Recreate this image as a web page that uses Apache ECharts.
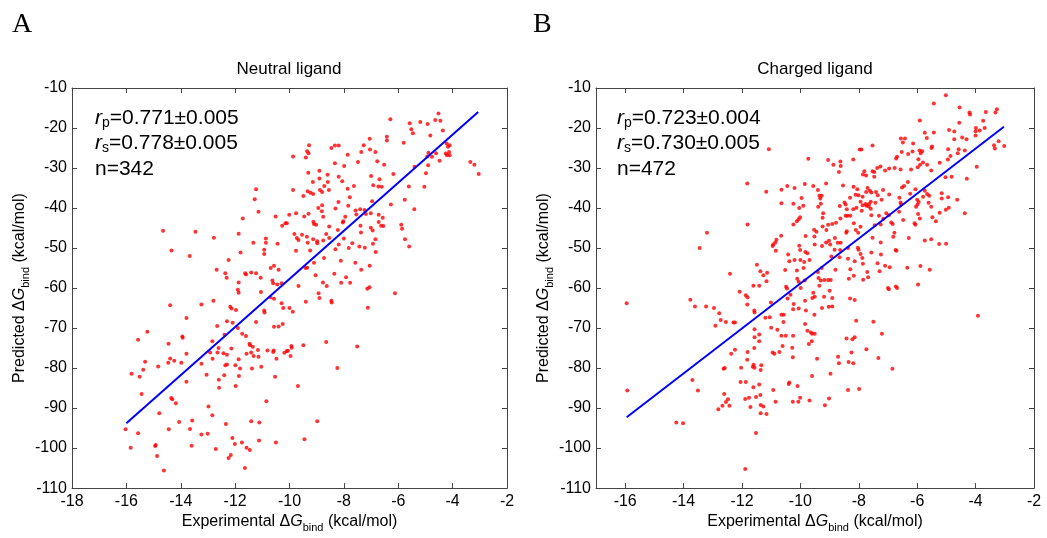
<!DOCTYPE html>
<html>
<head>
<meta charset="utf-8">
<script src="https://cdn.jsdelivr.net/npm/echarts@6/dist/echarts.min.js"></script>
<style>
html,body{margin:0;padding:0;background:#fff;}
#chart{width:1047px;height:538px;}
</style>
</head>
<body>
<div id="chart"></div>
<script>
// ---------------- DATA ----------------
const panelLetters = ['A', 'B'];
const panelTitles = ['Neutral ligand', 'Charged ligand'];
const statsNeutral = ['0.771±0.005', '0.778±0.005', '342'];
const statsCharged = ['0.723±0.004', '0.730±0.005', '472'];
const yTickMin = -110, yTickMax = -10, yTickStep = 10;
const xRangeNeutral = [-18, -2];
const xRangeCharged = [-17, -2];

// regression lines [x, y]
const fitNeutral = [[-16, -93.8], [-3.06, -16.0]];
const fitCharged = [[-15.95, -92.3], [-3.03, -19.7]];

// Neutral ligand: [experimental dG, predicted dG]
const neutralPoints = [
[-11.23,-35.3],[-11.28,-37.8],[-11.14,-40.9],[-11.72,-42.6],[-10.51,-42.1],[-10.27,-44.4],[-10.15,-43.8],[-14.65,-45.7],[-13.46,-45.9],[-12.78,-47.4],[-11.87,-46.4],[-10.87,-47.6],[-11.33,-48.7],[-10.87,-48.7],[-10.44,-48.9],[-10.93,-50.4],[-14.34,-50.6],[-11.80,-51.1],[-10.93,-51.5],[-13.67,-52.0],[-12.24,-53.0],[-10.57,-54.4],[-10.69,-55.0],[-10.40,-55.4],[-12.68,-55.4],[-12.36,-56.3],[-11.63,-56.3],[-11.41,-56.1],[-11.23,-56.3],[-11.60,-56.6],[-12.31,-57.4],[-11.06,-57.4],[-11.87,-58.6],[-10.63,-58.1],[-10.60,-58.8],[-10.45,-59.1],[-10.29,-58.8],
[-6.29,-17.8],[-5.58,-18.8],[-5.19,-18.5],[-4.92,-19.0],[-4.64,-18.0],[-4.52,-16.4],[-4.45,-18.2],[-5.52,-20.3],[-5.46,-21.3],[-4.36,-20.6],[-4.82,-21.9],[-6.42,-22.2],[-6.42,-23.1],[-5.80,-23.7],[-7.05,-22.7],[-7.04,-25.4],[-7.27,-24.3],[-9.28,-24.3],[-9.35,-25.8],[-9.30,-26.3],[-9.40,-27.4],[-9.87,-27.1],[-8.46,-25.0],[-8.33,-24.4],[-8.19,-24.4],[-7.86,-26.7],[-7.36,-26.0],[-6.84,-26.0],[-7.48,-28.5],[-8.33,-28.8],[-7.99,-29.5],[-6.77,-28.3],[-6.52,-29.2],[-6.18,-31.5],[-4.22,-23.9],[-4.11,-24.3],[-4.17,-24.7],[-4.13,-26.0],[-4.25,-26.4],[-4.11,-26.8],[-4.21,-26.8],[-4.89,-26.2],[-4.76,-27.2],[-4.61,-26.3],[-4.93,-27.1],[-4.48,-28.2],[-4.90,-29.3],[-5.40,-29.7],[-4.98,-31.3],[-5.04,-34.7],[-5.61,-34.6],[-5.76,-37.9],[-5.41,-40.3],[-6.27,-39.1],[-3.35,-28.5],[-3.20,-29.2],[-3.04,-31.5],[-9.31,-31.2],[-8.90,-30.7],[-8.60,-31.7],[-8.90,-32.6],[-8.59,-33.5],[-9.14,-33.5],[-8.72,-34.5],[-9.87,-35.5],[-9.33,-35.8],[-9.23,-36.2],[-9.13,-36.5],[-9.49,-37.0],[-8.88,-35.5],[-8.80,-36.0],[-8.55,-35.5],[-8.19,-32.2],[-8.06,-33.3],[-7.86,-35.2],[-7.63,-34.5],[-7.78,-37.3],[-7.00,-32.0],[-6.92,-34.3],[-6.69,-32.8],[-6.73,-34.6],[-6.61,-34.7],[-8.20,-38.5],[-7.84,-39.4],[-6.96,-38.3],[-8.94,-40.0],[-8.80,-39.3],[-8.81,-40.8],[-8.76,-42.2],[-8.31,-40.1],[-9.76,-41.3],[-10.01,-41.7],[-9.30,-41.4],[-9.46,-42.1],[-10.10,-43.8],[-9.12,-43.4],[-9.02,-44.2],[-9.10,-44.0],[-8.54,-44.6],[-8.04,-43.6],[-8.02,-43.3],[-7.95,-42.2],[-7.57,-40.6],[-7.54,-41.6],[-7.40,-40.3],[-7.24,-40.5],[-7.19,-41.5],[-7.01,-41.3],[-6.72,-41.7],[-6.57,-42.4],[-6.72,-43.5],[-6.63,-44.4],[-6.55,-44.5],[-7.39,-44.4],[-7.01,-44.9],[-6.94,-45.6],[-7.37,-46.1],[-5.89,-44.2],[-5.86,-45.2],[-5.75,-47.8],[-5.60,-49.6],[-9.82,-46.5],[-9.73,-47.5],[-9.67,-48.0],[-9.54,-46.7],[-9.36,-47.2],[-9.33,-48.7],[-9.13,-47.8],[-8.98,-48.3],[-8.98,-48.8],[-8.76,-48.1],[-8.65,-46.5],[-8.54,-47.5],[-8.22,-45.5],[-8.19,-49.1],[-8.00,-47.6],[-8.31,-50.3],[-7.82,-50.0],[-7.69,-48.8],[-7.43,-49.6],[-7.23,-49.9],[-6.93,-48.9],[-6.84,-47.8],[-6.83,-51.0],[-9.76,-50.7],[-9.24,-50.6],[-8.73,-52.5],[-8.11,-53.2],[-7.58,-53.7],[-7.05,-54.4],[-7.36,-55.4],[-9.10,-53.7],[-9.35,-54.9],[-9.41,-55.0],[-9.04,-56.8],[-8.35,-56.4],[-7.92,-57.3],[-7.77,-58.7],[-8.10,-58.7],[-8.77,-58.6],[-8.63,-59.5],[-9.67,-59.5],[-7.06,-59.8],
[-11.90,-60.4],[-11.87,-61.2],[-11.05,-61.0],[-10.70,-62.3],[-10.57,-62.7],[-10.29,-63.8],[-10.23,-65.0],[-14.39,-64.3],[-13.24,-64.1],[-12.80,-63.2],[-12.18,-64.7],[-12.13,-65.1],[-11.97,-65.5],[-10.93,-65.6],[-10.92,-66.1],[-13.79,-67.5],[-12.30,-68.3],[-12.09,-68.7],[-11.23,-68.5],[-10.25,-69.0],[-10.57,-69.7],[-10.40,-69.6],[-12.66,-69.5],[-11.90,-70.0],[-15.23,-70.9],[-15.57,-72.9],[-14.45,-73.9],[-13.94,-72.1],[-13.93,-72.4],[-12.84,-73.3],[-12.39,-71.7],[-11.74,-71.4],[-11.60,-72.0],[-11.47,-73.9],[-11.45,-74.3],[-11.35,-74.7],[-11.16,-75.5],[-10.81,-75.6],[-10.60,-76.0],[-10.58,-75.6],[-10.19,-76.2],[-10.10,-75.8],[-12.61,-75.0],[-12.14,-75.1],[-12.92,-76.1],[-12.65,-76.1],[-12.43,-76.3],[-12.30,-76.7],[-11.58,-76.4],[-11.41,-76.1],[-11.32,-77.0],[-11.14,-77.2],[-10.48,-77.7],[-11.87,-77.8],[-12.83,-77.7],[-13.24,-78.9],[-13.79,-76.4],[-14.39,-77.6],[-14.24,-78.2],[-14.46,-78.7],[-13.98,-78.7],[-15.31,-78.4],[-15.38,-80.4],[-15.81,-81.4],[-15.51,-82.2],[-14.83,-79.6],[-15.44,-86.5],[-14.35,-87.5],[-14.31,-87.8],[-14.18,-88.8],[-13.79,-83.4],[-13.05,-81.7],[-12.60,-82.9],[-12.59,-84.9],[-12.36,-79.3],[-12.30,-79.1],[-12.40,-81.8],[-11.99,-79.3],[-11.82,-80.1],[-11.86,-82.0],[-11.98,-84.5],[-11.38,-80.1],[-11.04,-79.7],[-10.53,-82.2],[-10.85,-88.3],[-12.98,-89.6],[-12.84,-91.8],[-14.79,-91.3],[-14.06,-93.5],[-13.58,-93.1],[-14.44,-95.3],[-13.66,-95.2],[-13.24,-96.6],[-13.01,-96.4],[-12.34,-94.0],[-11.41,-93.3],[-11.11,-93.6],[-11.12,-98.1],[-10.50,-98.6],[-16.03,-95.3],[-15.84,-99.9],[-15.57,-96.3],[-14.92,-99.2],[-14.94,-99.5],[-14.87,-102.0],[-14.62,-105.6],[-13.60,-99.4],[-12.71,-100.2],[-12.10,-97.5],[-12.01,-99.0],[-12.16,-101.7],[-12.24,-102.5],[-11.75,-98.6],[-11.58,-99.9],[-11.46,-100.5],[-11.64,-105.0],
[-7.14,-60.2],[-6.12,-61.3],[-8.93,-61.3],[-8.90,-62.5],[-9.40,-63.4],[-8.46,-63.2],[-8.45,-63.6],[-10.00,-65.0],[-9.88,-65.9],[-7.12,-64.9],[-8.65,-73.5],[-7.51,-74.6],[-9.49,-74.3],[-9.93,-74.5],[-9.92,-74.9],[-10.06,-75.7],[-9.96,-77.0],[-8.24,-80.0],[-9.69,-84.5],[-8.98,-93.3],[-9.45,-97.8]
];

// Charged ligand: [experimental dG, predicted dG]
const chargedPoints = [
[-11.08,-25.3],[-9.73,-27.7],[-11.82,-33.9],[-11.17,-35.9],[-10.65,-35.4],[-10.45,-34.5],[-10.20,-35.0],[-9.85,-34.0],[-9.96,-37.5],[-10.65,-38.8],[-10.24,-38.9],[-9.90,-39.4],[-10.04,-40.0],[-10.01,-42.3],[-10.06,-42.8],[-10.12,-43.3],[-10.24,-44.1],[-11.81,-44.1],[-13.20,-46.2],[-9.82,-47.0],[-13.45,-50.0],[-10.66,-46.9],[-10.82,-47.9],[-10.86,-48.6],[-10.93,-49.1],[-10.95,-49.5],[-10.84,-50.7],[-10.04,-49.4],[-10.01,-50.5],[-9.83,-51.0],[-9.76,-51.3],[-10.42,-51.6],[-10.38,-53.3],[-10.20,-53.0],[-10.00,-53.0],[-9.87,-53.5],[-9.69,-53.0],[-11.49,-54.2],[-10.52,-55.5],[-10.12,-55.6],[-9.89,-55.0],[-12.41,-56.4],[-11.37,-55.8],[-11.27,-56.8],[-11.14,-56.2],[-11.16,-58.3],[-11.41,-59.4],[-11.61,-59.4],[-10.49,-59.7],[-10.06,-58.4],[-10.11,-57.7],[-9.85,-58.1],
[-5.02,-11.8],[-5.43,-13.9],[-4.55,-14.9],[-4.21,-16.1],[-4.19,-16.6],[-3.65,-16.0],[-3.32,-16.1],[-3.27,-15.3],[-5.91,-18.1],[-4.56,-18.7],[-3.74,-18.2],[-3.69,-20.0],[-3.99,-20.0],[-4.00,-20.8],[-3.86,-20.6],[-4.91,-20.5],[-4.73,-20.9],[-5.43,-21.1],[-5.74,-21.2],[-4.46,-22.4],[-4.31,-22.8],[-4.73,-22.8],[-4.00,-21.9],[-3.21,-23.3],[-3.37,-24.3],[-3.34,-25.1],[-3.02,-24.5],[-6.56,-22.6],[-6.42,-22.6],[-6.49,-23.6],[-5.67,-22.5],[-6.14,-23.9],[-5.49,-24.6],[-5.51,-25.0],[-4.94,-25.3],[-4.58,-25.3],[-4.37,-25.6],[-4.61,-26.3],[-5.83,-25.8],[-5.92,-25.6],[-5.88,-26.3],[-6.16,-25.9],[-6.31,-26.5],[-5.96,-27.8],[-6.72,-27.6],[-6.69,-27.2],[-6.53,-26.0],[-7.53,-24.4],[-7.97,-25.4],[-7.91,-25.4],[-5.80,-28.6],[-5.90,-29.2],[-5.66,-29.2],[-5.52,-30.6],[-5.23,-28.7],[-4.95,-27.9],[-4.86,-27.0],[-5.03,-32.3],[-4.82,-32.2],[-4.30,-32.7],[-3.96,-29.7],[-6.77,-30.0],[-6.57,-30.4],[-6.21,-30.4],[-5.98,-29.8],[-7.10,-30.6],[-6.96,-30.1],[-7.26,-29.6],[-7.47,-31.0],[-7.53,-30.8],[-7.37,-30.0],[-7.81,-30.8],[-7.86,-31.6],[-7.75,-31.9],[-7.47,-32.2],[-9.05,-28.0],[-8.87,-29.2],[-8.63,-28.4],[-8.68,-31.0],[-8.62,-29.5],[-8.19,-27.9],[-9.12,-33.9],[-9.56,-34.5],[-9.40,-35.5],[-9.35,-36.9],[-9.27,-36.9],[-9.32,-37.6],[-9.30,-38.9],[-9.39,-39.7],[-8.54,-34.4],[-8.18,-34.7],[-8.05,-35.3],[-7.70,-35.0],[-7.75,-36.0],[-7.62,-35.7],[-7.57,-36.1],[-7.41,-36.0],[-7.35,-36.8],[-7.17,-35.5],[-6.96,-36.6],[-7.22,-37.9],[-7.43,-38.7],[-7.87,-37.2],[-8.11,-36.7],[-8.01,-36.8],[-8.30,-37.4],[-8.49,-38.6],[-8.45,-39.1],[-8.65,-39.5],[-8.41,-40.3],[-8.19,-40.3],[-7.94,-38.4],[-7.87,-39.3],[-7.77,-39.0],[-7.74,-39.4],[-7.66,-39.6],[-7.65,-39.0],[-7.59,-40.2],[-7.59,-38.4],[-8.08,-39.9],[-7.90,-40.7],[-7.57,-41.8],[-7.31,-41.9],[-7.06,-41.3],[-6.97,-41.8],[-7.16,-42.7],[-7.25,-44.1],[-6.89,-43.6],[-6.84,-44.0],[-6.62,-40.9],[-6.55,-39.1],[-6.61,-37.4],[-6.57,-38.6],[-6.52,-34.9],[-6.45,-34.5],[-6.32,-33.5],[-6.24,-36.4],[-6.06,-35.3],[-6.00,-37.9],[-5.99,-39.1],[-5.95,-38.5],[-5.80,-37.2],[-5.66,-36.5],[-5.59,-36.9],[-5.74,-35.7],[-5.61,-38.7],[-5.52,-39.7],[-5.48,-42.3],[-5.36,-43.3],[-5.23,-41.2],[-5.02,-40.4],[-4.92,-39.9],[-5.16,-36.3],[-5.16,-37.6],[-4.94,-37.3],[-4.63,-37.9],[-4.37,-41.3],[-6.48,-43.0],[-6.29,-47.5],[-5.97,-41.5],[-5.91,-42.6],[-6.09,-43.8],[-6.06,-44.2],[-6.04,-39.7],[-6.78,-46.2],[-6.82,-47.2],[-5.74,-48.1],[-5.52,-47.8],[-5.25,-49.0],[-5.01,-48.9],[-6.74,-50.5],[-6.71,-50.7],[-7.24,-51.6],[-7.57,-51.1],[-7.10,-54.4],[-6.94,-54.8],[-6.34,-54.9],[-5.89,-54.5],[-5.57,-55.4],[-7.36,-53.8],[-7.29,-55.8],[-7.71,-56.0],[-7.86,-53.9],[-8.14,-53.3],[-7.88,-52.5],[-7.94,-51.5],[-8.37,-52.7],[-8.66,-52.3],[-8.94,-52.1],[-8.01,-50.4],[-8.03,-49.9],[-8.37,-50.0],[-8.64,-50.5],[-8.72,-48.7],[-8.62,-48.7],[-8.82,-47.5],[-9.02,-48.2],[-8.98,-49.1],[-9.12,-48.6],[-9.26,-49.5],[-8.83,-50.4],[-8.91,-44.0],[-8.78,-43.7],[-9.05,-44.2],[-9.11,-45.5],[-9.24,-44.6],[-9.45,-45.9],[-9.52,-47.1],[-9.51,-49.1],[-9.53,-45.4],[-9.24,-42.4],[-9.22,-41.3],[-8.63,-42.6],[-8.45,-41.9],[-8.39,-41.9],[-8.29,-41.9],[-8.41,-45.8],[-8.43,-46.2],[-8.17,-43.8],[-8.10,-45.5],[-8.02,-46.2],[-7.94,-44.7],[-7.45,-44.3],[-7.53,-47.4],[-7.25,-48.6],[-9.27,-55.0],[-9.40,-56.0],[-9.38,-57.5],[-9.30,-58.1],[-9.18,-58.0],[-9.05,-58.0],[-8.96,-58.0],[-8.80,-55.4],[-8.29,-55.3],[-8.34,-57.7],[-8.17,-56.9],[-7.85,-57.9],[-7.68,-57.3],[-6.73,-59.6],[-5.97,-59.1],[-7.00,-60.0],[-9.35,-59.4],
[-15.95,-63.8],[-15.93,-85.6],[-13.77,-62.9],[-13.61,-64.6],[-13.23,-64.6],[-12.96,-65.0],[-12.78,-66.3],[-12.73,-68.0],[-12.91,-69.4],[-12.55,-68.5],[-12.29,-68.6],[-12.24,-68.6],[-12.08,-60.9],[-11.87,-61.8],[-11.81,-62.3],[-11.82,-64.1],[-11.58,-65.6],[-11.57,-66.1],[-11.01,-63.6],[-11.20,-67.4],[-11.05,-67.3],[-10.46,-60.1],[-10.34,-61.7],[-10.44,-62.6],[-10.23,-64.0],[-10.25,-65.3],[-10.06,-65.1],[-9.84,-63.2],[-9.99,-60.0],[-9.81,-65.6],[-9.56,-61.2],[-10.65,-66.7],[-10.57,-66.7],[-10.58,-68.5],[-9.84,-69.0],[-9.76,-70.7],[-9.64,-71.1],[-9.51,-71.4],[-9.61,-73.3],[-9.71,-74.0],[-11.57,-70.3],[-11.00,-69.9],[-10.79,-70.4],[-10.65,-71.9],[-10.50,-71.9],[-10.25,-71.9],[-10.61,-74.5],[-10.28,-74.9],[-10.26,-77.3],[-10.72,-76.0],[-10.95,-76.1],[-10.89,-76.4],[-11.57,-72.3],[-11.41,-71.6],[-11.41,-73.3],[-11.58,-75.0],[-11.81,-76.0],[-11.82,-77.9],[-12.37,-76.4],[-12.24,-75.4],[-12.03,-79.9],[-11.60,-79.2],[-11.63,-79.7],[-11.57,-79.9],[-11.34,-79.3],[-11.36,-80.5],[-12.63,-80.2],[-12.59,-80.0],[-13.70,-83.0],[-13.51,-85.6],[-12.05,-83.5],[-11.87,-83.5],[-11.61,-84.8],[-11.41,-84.1],[-10.93,-85.5],[-10.40,-84.0],[-10.38,-83.6],[-10.10,-84.5],[-9.69,-88.1],[-10.01,-87.4],[-10.07,-88.4],[-10.26,-88.4],[-10.85,-88.4],[-11.37,-86.7],[-11.52,-87.2],[-11.76,-87.4],[-11.89,-87.7],[-12.61,-86.5],[-12.48,-87.8],[-12.55,-88.5],[-12.67,-89.4],[-12.43,-89.4],[-12.81,-90.3],[-11.71,-89.7],[-11.36,-89.2],[-11.27,-89.6],[-11.36,-91.3],[-11.16,-91.5],[-11.52,-96.2],[-11.89,-105.2],[-14.25,-93.6],[-14.02,-93.8],
[-6.97,-60.3],[-6.69,-60.0],[-9.00,-60.7],[-9.19,-62.2],[-9.51,-62.2],[-9.59,-62.5],[-8.91,-62.5],[-8.30,-62.6],[-8.14,-63.0],[-9.26,-65.0],[-9.03,-64.7],[-8.91,-64.6],[-9.52,-66.7],[-8.09,-68.2],[-7.50,-68.4],[-3.92,-66.9],[-9.60,-71.4],[-7.21,-71.4],[-8.42,-72.6],[-8.22,-72.8],[-8.14,-72.3],[-7.74,-75.3],[-8.25,-76.1],[-9.43,-77.7],[-8.71,-77.2],[-8.68,-78.8],[-8.35,-78.5],[-8.19,-78.8],[-7.33,-77.5],[-6.85,-80.2],[-9.60,-82.0],[-8.97,-81.4],[-8.37,-85.5],[-7.99,-85.2],[-9.02,-87.6],[-9.16,-89.3]
];

// ---------------- CHART ----------------
const FONT = "'Liberation Sans', Arial, Helvetica, sans-serif";
const SERIF = "'Liberation Serif', 'Times New Roman', serif";
const AXIS_COLOR = '#444';

const nameRich = {
  a: {fontSize: 16, fontFamily: FONT, color: '#000', lineHeight: 22},
  i: {fontSize: 16, fontFamily: FONT, fontStyle: 'italic', color: '#000', lineHeight: 22},
  s: {fontSize: 11, fontFamily: FONT, color: '#000', lineHeight: 6, verticalAlign: 'bottom'}
};
const xName = '{a|Experimental Δ}{i|G}{s|bind}{a| (kcal/mol)}';
const yName = '{a|Predicted Δ}{i|G}{s|bind}{a| (kcal/mol)}';

function xAxisPair(grid, range, useInterval) {
  const base = {
    gridIndex: grid, type: 'value', min: range[0], max: range[1],
    splitLine: {show: false},
    axisLine: {show: true, onZero: false, lineStyle: {color: AXIS_COLOR, width: 1}},
    axisTick: {show: true, inside: true, length: 5, lineStyle: {color: AXIS_COLOR}}
  };
  if (useInterval) base.interval = 2; else base.splitNumber = 7;
  const bottom = Object.assign({}, base, {
    position: 'bottom',
    axisLabel: {color: '#000', fontSize: 16, fontFamily: FONT, margin: 5, showMinLabel: useInterval},
    name: xName, nameLocation: 'middle', nameGap: 20,
    nameTextStyle: {rich: nameRich}
  });
  const top = Object.assign({}, base, {position: 'top', axisLabel: {show: false}});
  return [bottom, top];
}
function yAxisPair(grid) {
  const base = {
    gridIndex: grid, type: 'value', min: yTickMin, max: yTickMax, interval: yTickStep,
    splitLine: {show: false},
    axisLine: {show: true, onZero: false, lineStyle: {color: AXIS_COLOR, width: 1}},
    axisTick: {show: true, inside: true, length: 5, lineStyle: {color: AXIS_COLOR}}
  };
  const left = Object.assign({}, base, {
    position: 'left',
    axisLabel: {color: '#000', fontSize: 16, fontFamily: FONT, margin: 5},
    name: yName, nameLocation: 'middle', nameGap: 41,
    nameTextStyle: {rich: nameRich}
  });
  const right = Object.assign({}, base, {position: 'right', axisLabel: {show: false}});
  return [left, right];
}

const statRich = {
  i: {fontSize: 21, fontFamily: FONT, fontStyle: 'italic', color: '#000', lineHeight: 24},
  n: {fontSize: 21, fontFamily: FONT, color: '#000', lineHeight: 24},
  s: {fontSize: 14, fontFamily: FONT, color: '#000', lineHeight: 6, verticalAlign: 'bottom'}
};
function statTexts(x, stats) {
  const lines = [
    '{i|r}{s|p}{n|=' + stats[0] + '}',
    '{i|r}{s|s}{n|=' + stats[1] + '}',
    '{n|n=' + stats[2] + '}'
  ];
  const ys = [118, 143, 169];
  return lines.map((t, k) => ({
    type: 'text', x: x, y: ys[k],
    style: {text: t, rich: statRich, align: 'left', verticalAlign: 'middle'}
  }));
}

const chart = echarts.init(document.getElementById('chart'), null, {renderer: 'canvas'});
const xa0 = xAxisPair(0, xRangeNeutral, true);
const xa1 = xAxisPair(1, xRangeCharged, false);
const ya0 = yAxisPair(0);
const ya1 = yAxisPair(1);

chart.setOption({
  animation: false,
  backgroundColor: '#fff',
  grid: [
    {left: 72, top: 88, width: 435, height: 402},
    {left: 596, top: 88, width: 438, height: 402}
  ],
  xAxis: [xa0[0], xa0[1], xa1[0], xa1[1]],
  yAxis: [ya0[0], ya0[1], ya1[0], ya1[1]],
  series: [
    {type: 'scatter', xAxisIndex: 0, yAxisIndex: 0, data: neutralPoints, symbol: 'circle', symbolSize: 4,
     itemStyle: {color: '#ff0000'}, silent: true},
    {type: 'line', xAxisIndex: 0, yAxisIndex: 0, data: fitNeutral, symbol: 'none',
     lineStyle: {color: '#0000ff', width: 2}, silent: true},
    {type: 'scatter', xAxisIndex: 2, yAxisIndex: 2, data: chargedPoints, symbol: 'circle', symbolSize: 4,
     itemStyle: {color: '#ff0000'}, silent: true},
    {type: 'line', xAxisIndex: 2, yAxisIndex: 2, data: fitCharged, symbol: 'none',
     lineStyle: {color: '#0000ff', width: 2}, silent: true}
  ],
  graphic: [
    {type: 'text', x: 12, y: 25, style: {text: panelLetters[0], font: '28px ' + SERIF, fill: '#000', verticalAlign: 'middle'}},
    {type: 'text', x: 533, y: 25, style: {text: panelLetters[1], font: '28px ' + SERIF, fill: '#000', verticalAlign: 'middle'}},
    {type: 'text', x: 289, y: 69, style: {text: panelTitles[0], font: '17px ' + FONT, fill: '#000', align: 'center', verticalAlign: 'middle'}},
    {type: 'text', x: 815, y: 69, style: {text: panelTitles[1], font: '17px ' + FONT, fill: '#000', align: 'center', verticalAlign: 'middle'}}
  ].concat(statTexts(95, statsNeutral)).concat(statTexts(617, statsCharged))
});
</script>
</body>
</html>
